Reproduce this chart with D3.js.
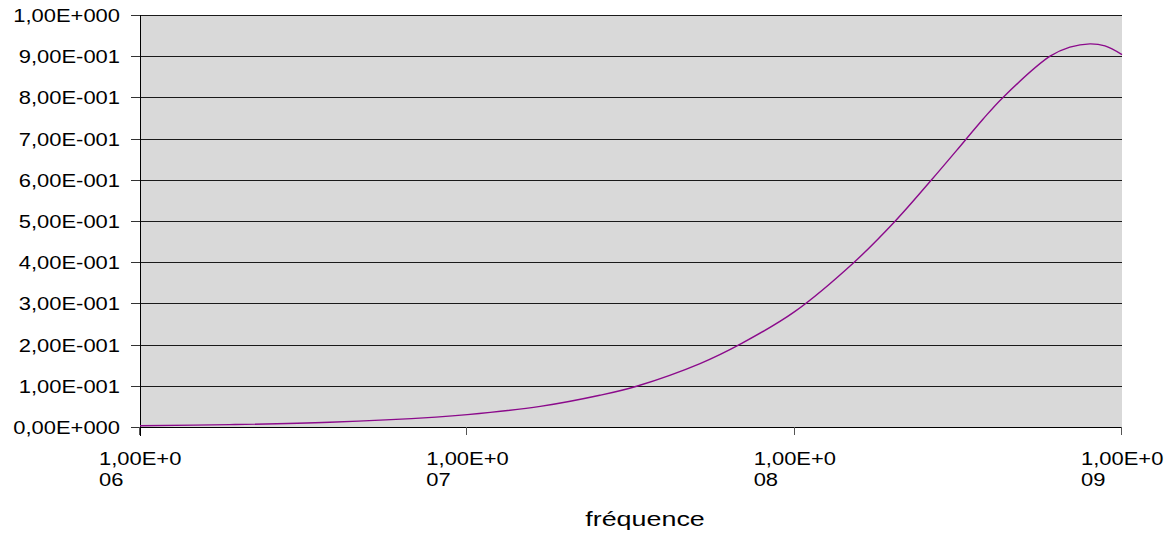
<!DOCTYPE html>
<html>
<head>
<meta charset="utf-8">
<script src="https://cdn.jsdelivr.net/npm/d3@7"></script>
<style>
  body { margin: 0; background: #fff; }
  svg { display: block; }
  text { font-family: "Liberation Sans", Arial, sans-serif; fill: #000; }
</style>
</head>
<body>
<div id="chart"></div>
<script>
// frequency (Hz) and read-off values of the curve
var freqs = [1.00e6, 1.88e6, 3.80e6, 8.02e6, 1.00e7, 1.67e7, 2.54e7, 3.29e7, 5.14e7, 6.89e7,
             1.00e8, 1.52e8, 2.03e8, 2.62e8, 3.13e8, 3.76e8, 4.33e8, 6.03e8, 6.93e8,
             7.98e8, 8.87e8, 1.00e9];
var values = [0.003, 0.0057, 0.0115, 0.024, 0.030, 0.050, 0.077, 0.099, 0.154, 0.203,
              0.280, 0.400, 0.500, 0.600, 0.672, 0.747, 0.800, 0.900, 0.922,
              0.930, 0.925, 0.904];
var xTicks = [1e6, 1e7, 1e8, 1e9];
var xTickLabels = [["1,00E+0", "06"], ["1,00E+0", "07"], ["1,00E+0", "08"], ["1,00E+0", "09"]];
var yTicks = [0, 0.1, 0.2, 0.3, 0.4, 0.5, 0.6, 0.7, 0.8, 0.9, 1.0];
var yTickLabels = ["0,00E+000", "1,00E-001", "2,00E-001", "3,00E-001", "4,00E-001", "5,00E-001",
                   "6,00E-001", "7,00E-001", "8,00E-001", "9,00E-001", "1,00E+000"];
var xTitle = "fréquence";

var W = 1169, H = 533,
    m = {left: 140, right: 47, top: 15, bottom: 106},
    pw = W - m.left - m.right,
    ph = H - m.top - m.bottom;

var svg = d3.select("#chart").append("svg").attr("width", W).attr("height", H);

var x = d3.scaleLog().domain([1e6, 1e9]).range([m.left, m.left + pw]),
    y = d3.scaleLinear().domain([0, 1]).range([m.top + ph, m.top]);

// plot background
svg.append("rect").attr("x", m.left).attr("y", m.top).attr("width", pw).attr("height", ph).attr("fill", "#d9d9d9");

// horizontal grid lines
svg.append("g").selectAll("line").data(yTicks.slice(1)).enter().append("line")
    .attr("x1", m.left).attr("x2", m.left + pw)
    .attr("y1", function (d) { return Math.round(y(d)) + 0.5; })
    .attr("y2", function (d) { return Math.round(y(d)) + 0.5; })
    .attr("stroke", "#1a1a1a").attr("stroke-width", 1);

// y axis
var ya = svg.append("g");
ya.append("line").attr("x1", m.left + 0.5).attr("x2", m.left + 0.5).attr("y1", m.top).attr("y2", m.top + ph + 9).attr("stroke", "#000");
ya.selectAll("line.tk").data(yTicks).enter().append("line").attr("class", "tk")
    .attr("x1", m.left - 9).attr("x2", m.left)
    .attr("y1", function (d) { return Math.round(y(d)) + 0.5; })
    .attr("y2", function (d) { return Math.round(y(d)) + 0.5; })
    .attr("stroke", "#333");
ya.selectAll("text").data(yTicks).enter().append("text")
    .attr("transform", function (d) { return "translate(120," + (y(d) + 7) + ") scale(1.22,1)"; })
    .attr("text-anchor", "end").style("font-size", "18px")
    .text(function (d, i) { return yTickLabels[i]; });

// x axis
var xa = svg.append("g");
xa.append("line").attr("x1", m.left).attr("x2", m.left + pw).attr("y1", m.top + ph + 0.5).attr("y2", m.top + ph + 0.5).attr("stroke", "#000");
xa.selectAll("line.tk").data(xTicks).enter().append("line").attr("class", "tk")
    .attr("x1", function (d) { return Math.round(x(d)) - 0.5; })
    .attr("x2", function (d) { return Math.round(x(d)) - 0.5; })
    .attr("y1", m.top + ph).attr("y2", m.top + ph + 8)
    .attr("stroke", "#555");
xa.selectAll("g.lb").data(xTicks).enter().append("g").attr("class", "lb")
    .attr("transform", function (d) { return "translate(" + (x(d) - 41) + "," + (m.top + ph + 38) + ") scale(1.22,1)"; })
    .each(function (d, i) {
        var g = d3.select(this);
        g.append("text").attr("x", 0).attr("y", 0).style("font-size", "18px").text(xTickLabels[i][0]);
        g.append("text").attr("x", 0).attr("y", 21).style("font-size", "18px").text(xTickLabels[i][1]);
    });

// axis title
svg.append("text")
    .attr("transform", "translate(645,526) scale(1.28,1)")
    .attr("text-anchor", "middle").style("font-size", "21px")
    .text(xTitle);

// curve
var pts = freqs.map(function (f, i) { return [x(f), y(values[i])]; });
svg.append("path").datum(pts)
    .attr("d", d3.line().curve(d3.curveCatmullRom.alpha(0.5)))
    .attr("fill", "none").attr("stroke", "#8b0a8b").attr("stroke-width", 1.4);
</script>
</body>
</html>
